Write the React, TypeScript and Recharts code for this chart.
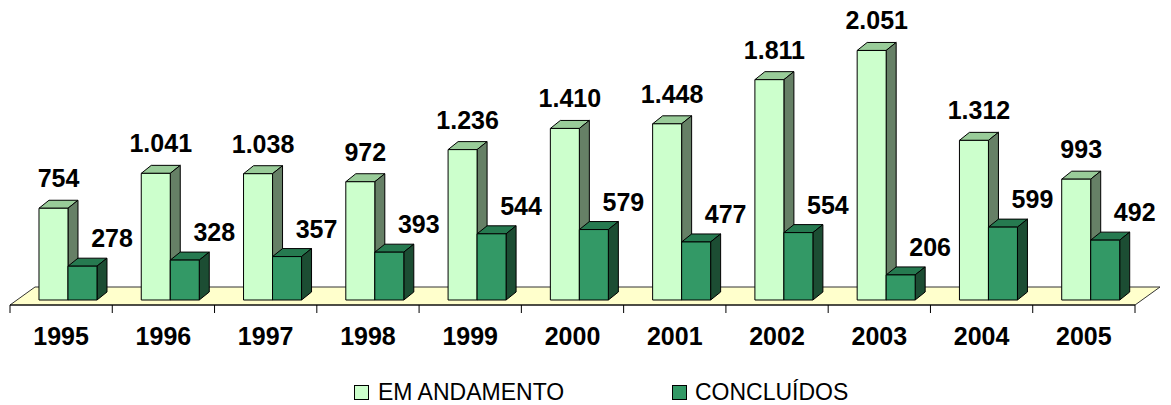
import React from 'react';
import { BarChart, Bar, XAxis, YAxis, ReferenceArea } from 'recharts';

const years = ['1995', '1996', '1997', '1998', '1999', '2000', '2001', '2002', '2003', '2004', '2005'];
const emAndamento = [754, 1041, 1038, 972, 1236, 1410, 1448, 1811, 2051, 1312, 993];
const concluidos = [278, 328, 357, 393, 544, 579, 477, 554, 206, 599, 492];
const seriesNames = ['EM ANDAMENTO', 'CONCLUÍDOS'];

const data = years.map((year, i) => ({ year, emAndamento: emAndamento[i], concluidos: concluidos[i] }));

const W = 1171;
const H = 405;
const MARGIN = { top: 13, right: 36, bottom: 40, left: 10 };
const PLOT_W = W - MARGIN.left - MARGIN.right;
const BAND = PLOT_W / years.length;

// 3d look
const SHIFT_X = 7;
const SHIFT_Y = -5;
const DX = 10;
const DY = -8;
const FLOOR_DX = 25;
const FLOOR_DY = -18;

const FONT = '"Liberation Sans", Arial, sans-serif';

const LIGHT = { face: '#CCFFCC', top: '#99CC99', side: '#668066' };
const DARK = { face: '#339966', top: '#267A50', side: '#1C4D33' };

const fmt = (v: number) => String(v).replace(/\B(?=(\d{3})+(?!\d))/g, '.');

function makeBox(colors: { face: string; top: string; side: string }) {
  return function Box(props: any) {
    const { x, y, width, height } = props;
    if (width == null || height == null) return null;
    const x0 = x + SHIFT_X;
    const y0 = y + SHIFT_Y;
    const x1 = x0 + width;
    const y1 = y0 + height;
    return (
      <g stroke="#000" strokeWidth={1} strokeLinejoin="round">
        <polygon points={`${x0},${y0} ${x1},${y0} ${x1 + DX},${y0 + DY} ${x0 + DX},${y0 + DY}`} fill={colors.top} />
        <polygon points={`${x1},${y0} ${x1 + DX},${y0 + DY} ${x1 + DX},${y1 + DY} ${x1},${y1}`} fill={colors.side} />
        <rect x={x0} y={y0} width={width} height={height} fill={colors.face} />
      </g>
    );
  };
}

const LightBox = makeBox(LIGHT);
const DarkBox = makeBox(DARK);

function lightLabel(props: any) {
  const { x, y, width, value } = props;
  return (
    <text x={x + SHIFT_X + width / 2 + 5} y={y + SHIFT_Y - 21} textAnchor="middle"
      fontFamily={FONT} fontWeight="bold" fontSize={25} fill="#000">
      {fmt(value)}
    </text>
  );
}

function darkLabel(props: any) {
  const { x, y, width, value } = props;
  return (
    <text x={x + SHIFT_X + width + 15} y={y + SHIFT_Y - 19} textAnchor="middle"
      fontFamily={FONT} fontWeight="bold" fontSize={25} fill="#000">
      {fmt(value)}
    </text>
  );
}

function Floor(props: any) {
  const { x, y, width, height } = props;
  const yb = y + height;
  const xr = x + width;
  return (
    <polygon
      points={`${x},${yb} ${xr},${yb} ${xr + FLOOR_DX},${yb + FLOOR_DY} ${x + FLOOR_DX},${yb + FLOOR_DY}`}
      fill="#FFFFCC"
      stroke="#333"
      strokeWidth={1}
    />
  );
}

function YearTick(props: any) {
  const { x, y, payload, index } = props;
  const left = x - BAND / 2;
  return (
    <g>
      <line x1={left} y1={y} x2={left} y2={y + 8} stroke="#000" />
      {index === years.length - 1 && <line x1={x + BAND / 2} y1={y} x2={x + BAND / 2} y2={y + 8} stroke="#000" />}
      <text x={x} y={y + 40} textAnchor="middle" fontFamily={FONT} fontWeight="bold" fontSize={25} fill="#000">
        {payload.value}
      </text>
    </g>
  );
}

export default function App() {
  return (
    <div style={{ position: 'absolute', left: 0, top: 0, width: W, height: H, background: '#fff' }}>
      <BarChart width={W} height={H} data={data} margin={MARGIN} barCategoryGap="21.5%" barGap={0}>
        <YAxis hide domain={[0, 2400]} />
        <ReferenceArea y1={0} y2={100} shape={<Floor />} ifOverflow="visible" />
        <XAxis
          dataKey="year"
          height={60}
          axisLine={{ stroke: '#000', strokeWidth: 1 }}
          tickLine={false}
          tickSize={0}
          tickMargin={0}
          interval={0}
          tick={<YearTick />}
        />
        <Bar dataKey="emAndamento" name={seriesNames[0]} shape={<LightBox />} label={lightLabel} isAnimationActive={false} />
        <Bar dataKey="concluidos" name={seriesNames[1]} shape={<DarkBox />} label={darkLabel} isAnimationActive={false} />
      </BarChart>
      <svg width={W} height={40} style={{ position: 'absolute', left: 0, top: 365 }}>
        <rect x={354.5} y={20.5} width={14} height={14} fill={LIGHT.face} stroke="#000" />
        <text x={378} y={35} fontFamily={FONT} fontSize={23} fill="#000">{seriesNames[0]}</text>
        <rect x={672.5} y={20.5} width={14} height={14} fill={DARK.face} stroke="#000" />
        <text x={695} y={35} fontFamily={FONT} fontSize={23} fill="#000">{seriesNames[1]}</text>
      </svg>
    </div>
  );
}
